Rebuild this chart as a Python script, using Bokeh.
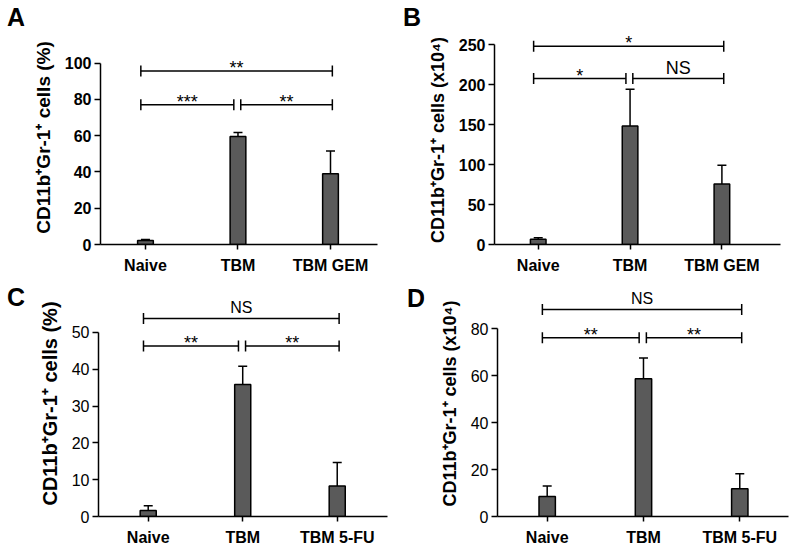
import numpy as np
from bokeh.plotting import figure
from bokeh.models import Range1d, FixedTicker, Whisker, TeeHead, Div, ColumnDataSource
from bokeh.layouts import column, row
from bokeh.embed import file_html
from bokeh.resources import INLINE
from bokeh.core.properties import value

# ---------------- data ----------------
groups_ab = ["Naive", "TBM", "TBM GEM"]
groups_cd = ["Naive", "TBM", "TBM 5-FU"]

a_mean = [2.2, 59.5, 39.0]
a_err = [0.6, 2.2, 12.5]
b_mean = [6.5, 148.0, 75.5]
b_err = [2.0, 46.0, 23.5]
c_mean = [1.6, 35.9, 8.3]
c_err = [1.3, 4.9, 6.4]
d_mean = [8.5, 58.7, 11.8]
d_err = [4.5, 8.9, 6.4]

# brackets: (from group index, to group index, height, label)
a_brackets = [(0, 1, 77.0, "***"), (1, 2, 77.0, "**"), (0, 2, 95.6, "**")]
b_brackets = [(0, 1, 207.5, "*"), (1, 2, 207.5, "NS"), (0, 2, 247.9, "*")]
c_brackets = [(0, 1, 46.3, "**"), (1, 2, 46.3, "**"), (0, 2, 53.8, "NS")]
d_brackets = [(0, 1, 76.2, "**"), (1, 2, 76.2, "**"), (0, 2, 88.3, "NS")]

a_ticks = [0, 20, 40, 60, 80, 100]
b_ticks = [0, 50, 100, 150, 200, 250]
c_ticks = [0, 10, 20, 30, 40, 50]
d_ticks = [0, 20, 40, 60, 80]

FONT = "Liberation Sans"


def panel(groups, means, errs, brackets, yticks, ylabel, geom, tick_style,
          ylab_size, ns_size):
    w, h, bl, br, bt, bb, yend, xs, xe = geom
    p = figure(width=w, height=h, output_backend="svg", toolbar_location=None,
               x_range=Range1d(xs, xe), y_range=Range1d(0, yend),
               min_border_left=bl, min_border_right=br, min_border_top=bt, min_border_bottom=bb)
    p.outline_line_color = None
    p.grid.visible = False
    p.background_fill_color = "white"
    p.border_fill_color = "white"

    x = np.arange(1, len(groups) + 1)
    src = ColumnDataSource(dict(x=x, top=means, upper=np.array(means) + np.array(errs)))
    p.vbar(x="x", top="top", width=0.17, source=src, fill_color="#5a5a5a",
           line_color="black", line_width=1.5)
    wk = Whisker(base="x", lower="top", upper="upper", source=src,
                 upper_head=TeeHead(size=9, line_width=1.5, line_color="black"),
                 lower_head=None, line_width=1.5, line_color="black")
    p.add_layout(wk)

    # significance brackets
    x0s, x1s, ys, tx, ty, tl = [], [], [], [], [], []
    for i, j, yy, lab in brackets:
        a = i + 1 + (-0.05 if i == 0 else 0.03)
        b = j + 1 + (-0.045 if j == 1 else 0.02)
        x0s.append(a); x1s.append(b); ys.append(yy)
        tx.append((a + b) / 2); ty.append(yy); tl.append(lab)
    p.segment(x0=x0s, y0=ys, x1=x1s, y1=ys, line_color="black", line_width=1.5)
    p.scatter(x=x0s + x1s, y=ys + ys, marker="dash", angle=np.pi / 2, size=11,
              line_color="black", line_width=1.5)
    for xx, yy, lab in zip(tx, ty, tl):
        ns = lab == "NS"
        p.text(x=[xx], y=[yy], text=[lab], text_align="center", text_baseline="middle",
               y_offset=-11 if ns else -3, text_font=value(FONT),
               text_font_size=ns_size if ns else "18px", text_color="black")

    # axes
    xa = p.xaxis[0]
    xa.ticker = FixedTicker(ticks=list(x))
    xa.major_label_overrides = {int(k): g for k, g in zip(x, groups)}
    xa.major_label_text_font = FONT
    xa.major_label_text_font_style = "bold"
    xa.major_label_text_font_size = "16px"
    xa.major_label_text_color = "black"
    xa.major_label_standoff = 7
    xa.major_tick_out = 5
    xa.major_tick_in = 0
    xa.minor_tick_line_color = None
    xa.axis_line_width = 1.5
    xa.major_tick_line_width = 1.5

    ya = p.yaxis[0]
    ya.ticker = FixedTicker(ticks=yticks)
    ya.bounds = (yticks[0], yticks[-1])
    ya.major_label_text_font = FONT
    ya.major_label_text_font_style = tick_style
    ya.major_label_text_font_size = "16px"
    ya.major_label_text_color = "black"
    ya.major_label_standoff = 3
    ya.major_tick_out = 6
    ya.major_tick_in = 0
    ya.minor_tick_line_color = None
    ya.axis_line_width = 1.5
    ya.major_tick_line_width = 1.5
    ya.axis_label = ylabel
    ya.axis_label_text_font = FONT
    ya.axis_label_text_font_style = "bold"
    ya.axis_label_text_font_size = ylab_size
    ya.axis_label_text_color = "black"
    ya.axis_label_standoff = 8
    return p


def letter(txt, h, top, left):
    html = ('<div style="font-family:\'Liberation Sans\';font-size:25px;font-weight:bold;'
            'line-height:1;color:black;padding-top:%dpx;padding-left:%dpx;">%s</div>'
            % (top, left, txt))
    return Div(text=html, width=24, height=h, margin=0)


pA = panel(groups_ab, a_mean, a_err, a_brackets, a_ticks,
           "CD11b\u207aGr-1\u207a cells (%)",
           (376, 276, 76, 23, 30, 32, 118.0, 0.514, 3.508), "bold", "19px", "16px")
pB = panel(groups_ab, b_mean, b_err, b_brackets, b_ticks,
           "CD11b\u207aGr-1\u207a cells  (x10\u2074)",
           (376, 276, 68, 20, 30, 32, 267.5, 0.524, 3.638), "bold", "18px", "18px")
pC = panel(groups_cd, c_mean, c_err, c_brackets, c_ticks,
           "CD11b\u207aGr-1\u207a cells (%)",
           (376, 272, 74, 13, 14, 32, 61.41, 0.474, 3.532), "normal", "20px", "16px")
pD = panel(groups_cd, d_mean, d_err, d_brackets, d_ticks,
           "CD11b\u207aGr-1\u207a cells (x10\u2074)",
           (376, 272, 73, 12, 14, 32, 96.38, 0.484, 3.506), "normal", "18px", "16px")

layout = column(
    row(letter("A", 276, 5, 7), pA, letter("B", 276, 5, 3), pB, spacing=0),
    row(letter("C", 272, 9, 7), pC, letter("D", 272, 10, 7), pD, spacing=0),
    spacing=0)
open("out.html", "w").write(file_html(layout, INLINE))
